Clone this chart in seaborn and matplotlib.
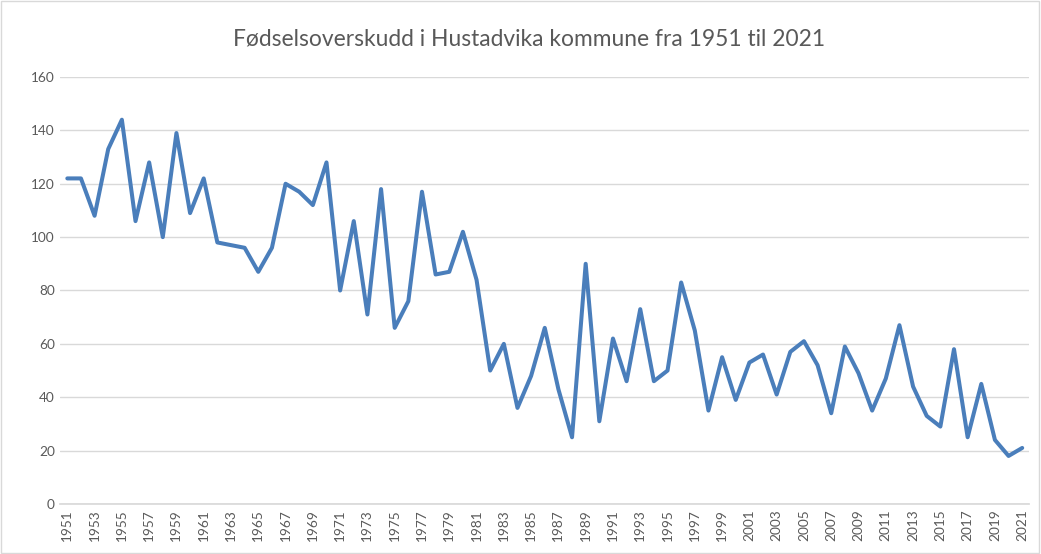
import numpy as np
import pandas as pd
import matplotlib
matplotlib.use("Agg")
import matplotlib.pyplot as plt
import seaborn as sns

# data: fødselsoverskudd per år (lest av grafen)
years = list(range(1951, 2022))
overskudd = [122, 122, 108, 133, 144, 106, 128, 100, 139, 109,
             122, 98, 97, 96, 87, 96, 120, 117, 112, 128,
             80, 106, 71, 118, 66, 76, 117, 86, 87, 102,
             84, 50, 60, 36, 48, 66, 43, 25, 90, 31,
             62, 46, 73, 46, 50, 83, 65, 35, 55, 39,
             53, 56, 41, 57, 61, 52, 34, 59, 49, 35,
             47, 67, 44, 33, 29, 58, 25, 45, 24, 18,
             21]
title = "Fødselsoverskudd i Hustadvika kommune fra 1951 til 2021"

df = pd.DataFrame({"år": years, "overskudd": overskudd})

sns.set_theme(style="white")
plt.rcParams["font.family"] = ["Lato", "DejaVu Sans"]

fig = plt.figure(figsize=(10.41, 5.54), dpi=100)
ax = fig.add_axes([0.0581, 0.0903, 0.9304, 0.7707])

sns.lineplot(data=df, x="år", y="overskudd", ax=ax, color="#4A7EBB", linewidth=2.9)

ax.set_xlim(1950.5, 2021.5)
ax.set_ylim(0, 160)
ax.set_yticks(range(0, 161, 20))
ax.set_xticks(years[::2])
ax.set_xticklabels([str(y) for y in years[::2]], rotation=90)
ax.tick_params(axis="both", labelsize=9.8, colors="#595959", length=0, pad=4)
ax.grid(axis="y", color="#D9D9D9", linewidth=1)
ax.set_axisbelow(True)
for side in ["top", "right", "left"]:
    ax.spines[side].set_visible(False)
ax.spines["bottom"].set_color("#D9D9D9")
ax.set_xlabel("")
ax.set_ylabel("")

fig.suptitle(title, x=0.508, y=0.948, fontsize=16.4, color="#595959")

# tynn ramme rundt diagrammet
fig.patches.append(plt.Rectangle((0.001, 0.001), 0.997, 0.997, transform=fig.transFigure,
                                 fill=False, edgecolor="#D9D9D9", linewidth=1))

fig.savefig("out.png", dpi=100)
